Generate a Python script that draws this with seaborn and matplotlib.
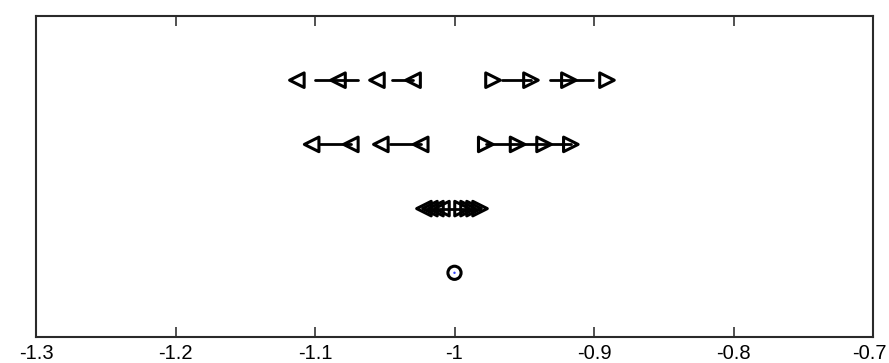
import matplotlib
matplotlib.use("Agg")
import matplotlib.pyplot as plt
import matplotlib.transforms as mtransforms
import numpy as np
import pandas as pd
import seaborn as sns

# Marker positions for each row (row height = y level)
row4_left = [-1.113, -1.0835, -1.0556, -1.0297]
row4_right = [-0.9724, -0.9452, -0.9180, -0.8907]
row3_left = [-1.1024, -1.0743, -1.0528, -1.0242]
row3_right = [-0.9776, -0.9548, -0.9358, -0.9166]
row2_left = [-1.0219, -1.0176, -1.0133, -1.0090]
row2_right = [-0.9946, -0.9903, -0.9860, -0.9817]
row1_center = [-1.0]

# Connecting line pieces: (start, end, row)
segments = [
    (-1.100, -1.069, 4),
    (-1.045, -1.030, 4),
    (-0.966, -0.945, 4),
    (-0.9315, -0.9005, 4),
    (-1.0964, -1.0743, 3),
    (-1.0462, -1.0242, 3),
    (-0.9776, -0.9166, 3),
    (-1.0219, -0.9817, 2),
]

xticks = [-1.3, -1.2, -1.1, -1.0, -0.9, -0.8, -0.7]
xticklabels = ["-1.3", "-1.2", "-1.1", "-1", "-0.9", "-0.8", "-0.7"]

sns.set_theme(style="white")
plt.rcParams["font.family"] = ["Liberation Sans", "DejaVu Sans"]

fig = plt.figure(figsize=(8.89, 3.63), dpi=100)
ax = fig.add_axes([36 / 889, 1 - 337 / 363, (873 - 36) / 889, (337 - 16) / 363])

# Build tables for seaborn
seg_rows = []
for i, (x0, x1, yv) in enumerate(segments):
    seg_rows.append({"seg": i, "x": x0, "y": yv})
    seg_rows.append({"seg": i, "x": x1, "y": yv})
seg_df = pd.DataFrame(seg_rows)

pts = []
for xs, yv, kind in [
    (row4_left, 4, "<"), (row4_right, 4, ">"),
    (row3_left, 3, "<"), (row3_right, 3, ">"),
    (row2_left, 2, "<"), (row2_right, 2, ">"),
]:
    for xv in xs:
        pts.append({"x": xv, "y": yv, "kind": kind})
tri_df = pd.DataFrame(pts)
circ_df = pd.DataFrame({"x": row1_center, "y": [1] * len(row1_center)})

sns.lineplot(data=seg_df, x="x", y="y", units="seg", estimator=None, sort=False,
             color="black", linewidth=2.0, ax=ax, legend=False)

sns.scatterplot(data=tri_df, x="x", y="y", style="kind",
                markers={"<": "<", ">": ">"}, s=110, color="black",
                facecolor="none", edgecolor="black", linewidth=2.2,
                ax=ax, legend=False, zorder=3)

sns.scatterplot(data=circ_df, x="x", y="y", marker="o", s=90, color="black",
                facecolor="none", edgecolor="black", linewidth=2.2,
                ax=ax, legend=False, zorder=3)
sns.scatterplot(data=circ_df, x="x", y="y", marker="o", s=3, color="#3344ff",
                edgecolor="none", ax=ax, legend=False, zorder=4)

ax.set_xlim(-1.3, -0.7)
ax.set_ylim(0, 5)
ax.set_xticks(xticks)
ax.set_xticklabels(xticklabels)
ax.set_yticks([])
ax.set_xlabel("")
ax.set_ylabel("")
ax.tick_params(axis="x", direction="in", length=7, width=1.1, color="#222222",
               top=True, bottom=True, labelsize=14.5, pad=5, labelcolor="black")
for sp in ax.spines.values():
    sp.set_visible(True)
    sp.set_color("#2a2a2a")
    sp.set_linewidth(1.5)

# Keep the outermost labels inside the canvas
labels = ax.get_xticklabels()
labels[-1].set_horizontalalignment("right")
labels[-1].set_transform(labels[-1].get_transform()
                         + mtransforms.ScaledTranslation(14 / 100, 0, fig.dpi_scale_trans))

fig.savefig("out.png", dpi=100)
